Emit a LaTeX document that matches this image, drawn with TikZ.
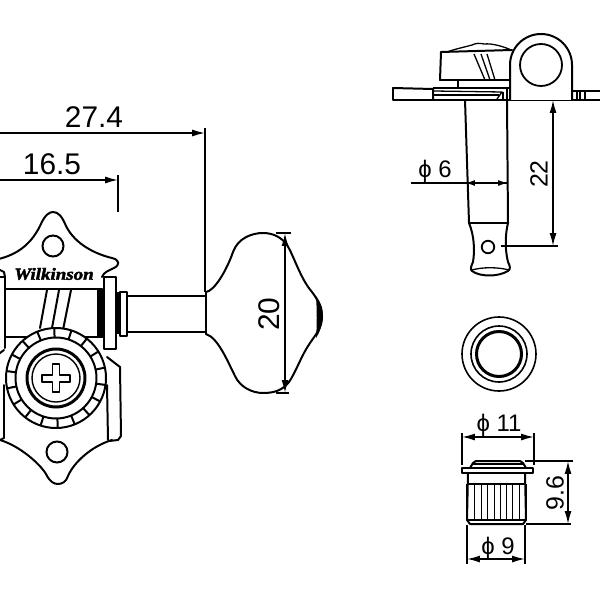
\documentclass[tikz,border=0pt]{standalone}
\usepackage{fontspec}
\setmainfont{Liberation Sans}
\newfontfamily\logofont[FakeBold=2.2]{Liberation Serif}
\usetikzlibrary{arrows.meta,calc}
\tikzset{
  part/.style={line width=2pt,line join=round,line cap=round},
  thin part/.style={line width=1.3pt,line join=round},
  dimline/.style={line width=1.5pt},
  dimarrow/.style={dimline,{Latex[length=13pt,width=7pt]}-{Latex[length=13pt,width=7pt]}},
  dimarrow right/.style={dimline,-{Latex[length=13pt,width=7pt]}},
  dimtext/.style={font=\fontsize{30}{30}\selectfont,inner sep=0pt},
  sidetext/.style={font=\fontsize{25}{25}\selectfont,inner sep=0pt},
  smalltext/.style={font=\fontsize{24}{24}\selectfont,inner sep=0pt},
}
\begin{document}
\begin{tikzpicture}[x=1bp,y=-1bp]
\useasboundingbox (0,0) rectangle (600,600);
\clip (0,0) rectangle (600,600);
% ---------- front view: plate
\draw[part] (-6,260) .. controls (15,256) and (30,246) .. (40,226)
  .. controls (45,214) and (50,212) .. (53,212)
  .. controls (58,212) and (62,216) .. (66,226)
  .. controls (75,244) and (95,254) .. (112,258)
  .. controls (120,260) and (120,265) .. (114,268)
  .. controls (108,271) and (104,272) .. (102,277);
\draw[part] (0,270) -- (4,272) -- (5,277);
\node[circle,draw,line width=2pt,minimum size=21bp,inner sep=0pt] (tophole) at (53,246) {};
\node[inner sep=0pt,font=\logofont\bfseries\itshape\fontsize{17}{18}\selectfont,xscale=1.12] (logo) at (54,274) {Wilkinson};
% barrel
\draw[part] (5,277) -- (5,348);
\draw[part] (-2,277) -- (5,277);
\draw[part] (5,289) -- (102,289);
\draw[part] (5,337) -- (102,337);
\draw[part] (47,290) -- (40,328);
\draw[part] (59,290) -- (52,328);
\draw[part] (71,290) -- (63,330);
\fill (97,289) rectangle (103,338);
\draw[part] (104,277) rectangle (116,349);
\fill (116,292) rectangle (120,334);
\draw[part] (120,292) rectangle (127,336);
% shaft
\draw[part] (127,296) -- (206,296);
\draw[part] (127,332) -- (206,332);
\draw[part] (206,292) -- (206,334);
% knob
\draw[part] (206,292) .. controls (214,291) and (226,272) .. (233,252)
  .. controls (238,238) and (252,233) .. (263,233)
  .. controls (274,233) and (282,238) .. (287,245)
  .. controls (294,256) and (300,278) .. (312,292)
  .. controls (319,301) and (322,310) .. (322,317)
  .. controls (322,328) and (316,334) .. (310,343)
  .. controls (301,356) and (296,372) .. (289,382)
  .. controls (282,391) and (273,393) .. (263,393)
  .. controls (252,393) and (240,387) .. (235,376)
  .. controls (227,360) and (218,338) .. (206,334);
\fill (316,296) .. controls (322,304) and (324,312) .. (322,318) .. controls (322,326) and (320,332) .. (316,338) .. controls (317,326) and (317,310) .. (316,296);
% lower plate
\draw[part] (107,357) -- (120,367) -- (121,436) -- (118,440) -- (109,441);
\draw[part] (107,385) -- (108,440);
\draw[part] (-4,356) -- (4,350);
\draw[part] (4,385) -- (4,438) -- (0,440);
\draw[part] (0,440) .. controls (20,446) and (40,464) .. (46,474)
  .. controls (50,482) and (54,484) .. (58,484)
  .. controls (62,484) and (66,482) .. (68,476)
  .. controls (74,462) and (92,446) .. (112,440);
\node[circle,draw,line width=2pt,minimum size=21bp,inner sep=0pt] (bothole) at (57,452) {};
% gear
\node[circle,fill=white,draw,line width=2pt,minimum size=100bp,inner sep=0pt] (gearouter) at (56,378) {};
\node[circle,draw,line width=2pt,minimum size=81bp,inner sep=0pt] (gearinner) at (56,378) {};
\foreach \a in {0,20,...,340}{
  \draw[line width=2pt] ($(56,378)+(\a+8:41)$) -- ($(56,378)+(\a+8:50)$);
}
\node[circle,draw,line width=3pt,minimum size=58bp,inner sep=0pt] (screwout) at (56,378) {};
\node[circle,draw,line width=1.4pt,minimum size=48bp,inner sep=0pt] (screwin) at (56,378) {};
\draw[part,shift={(56,378)}] (-3.5,-14) -- (3.5,-14) -- (3.5,-3.5) -- (14,-3.5) -- (14,3.5) -- (3.5,3.5) -- (3.5,14) -- (-3.5,14) -- (-3.5,3.5) -- (-14,3.5) -- (-14,-3.5) -- (-3.5,-3.5) -- cycle;
% dimensions, front view
\coordinate (d27l) at (0,133); \coordinate (d27r) at (205,133);
\draw[dimarrow right] (d27l) -- (d27r);
\draw[dimline] (205,128) -- (205,292);
\node[dimtext] (t27) at (94,117) {27.4};
\coordinate (d16l) at (0,180); \coordinate (d16r) at (118,180);
\draw[dimarrow right] (d16l) -- (d16r);
\draw[dimline] (118,175) -- (118,212);
\node[dimtext] (t16) at (52,164) {16.5};
\coordinate (d20t) at (285,233); \coordinate (d20b) at (285,393);
\draw[dimarrow] (d20t) -- (d20b);
\draw[dimline] (276,233) -- (291,233);
\draw[dimline] (276,393) -- (289,393);
\node[dimtext,rotate=90] (t20) at (269,314) {20};
% ---------- side view
\draw[part] (393,88) -- (433,89) -- (433,99);
\draw[part] (393,88) -- (393,100) -- (600,100);
\draw[thin part] (433,88) -- (510,88);
\draw[thin part] (434,91) -- (502,92) -- (497,99);
\draw[thin part] (434,95) -- (499,95);
\draw[part] (441,52) -- (440,80) -- (510,80);
\draw[part] (441,52) -- (512,50);
\draw[thin part] (447,52) .. controls (455,49) and (465,47) .. (472,45) .. controls (476,43) and (480,43) .. (484,44) .. controls (492,43) and (505,47) .. (511,50);
\draw[thin part] (474,54) -- (485,80);
\draw[thin part] (481,54) -- (490,80);
\draw[thin part] (487,54) -- (495,80);
\draw[thin part] (458,80) -- (458,88);
\draw[thin part] (507,88) -- (507,100);
\draw[thin part] (503,92) -- (503,100);
% ear
\draw[part,fill=white] (510,100) -- (510,65) arc[start angle=180,end angle=360,radius=31] -- (572,100);
\node[circle,draw,line width=1.8pt,minimum size=42bp,inner sep=0pt] (earhole) at (541,65) {};
\draw[part] (572,91) -- (600,91);
\draw[thin part] (572,91) -- (572,100) (577,91) -- (577,100) (580,91) -- (580,100) (585,91) -- (585,100);
% post
\draw[part] (465,100) -- (469,223);
\draw[part] (507,100) -- (508,223);
\draw[part] (469,223) -- (508,223);
\draw[part] (469,223) .. controls (474,235) and (475,250) .. (473,262)
  .. controls (471,266) and (470,270) .. (472,271)
  .. controls (480,277) and (498,277) .. (508,271)
  .. controls (511,269) and (510,266) .. (508,262)
  .. controls (505,250) and (505,235) .. (508,223);
\draw[thin part] (472,270) .. controls (482,267) and (498,267) .. (509,270);
\node[circle,draw,line width=1.8pt,minimum size=12.5bp,inner sep=0pt] (posthole) at (488,247) {};
\coordinate (phi6l) at (411,183); \coordinate (phi6a) at (465,183); \coordinate (phi6b) at (508,183);
\draw[dimline] (phi6l) -- (phi6b);
\draw[dimline,-{Latex[length=10pt,width=6pt]}] (480,183) -- (phi6a);
\draw[dimline,-{Latex[length=10pt,width=6pt]}] (493,183) -- (phi6b);
\node[smalltext] (t6) at (435,171) {ϕ 6};
\coordinate (d22t) at (553,100); \coordinate (d22b) at (553,246);
\draw[dimarrow] (d22t) -- (d22b);
\draw[dimline] (501,246) -- (558,246);
\node[sidetext,rotate=90] (t22) at (539,174) {22};
% ---------- bushing top view
\node[circle,draw,line width=1.6pt,minimum size=74bp,inner sep=0pt] (r1) at (499,354) {};
\node[circle,draw,line width=1.6pt,minimum size=56bp,inner sep=0pt] (r2) at (499,354) {};
\node[circle,draw,line width=3pt,minimum size=45bp,inner sep=0pt] (r3) at (499,354) {};
% ---------- bushing side view
\draw[part] (470,468) -- (473,463) -- (476,461) -- (520,461) -- (523,463) -- (526,468);
\draw[thin part] (473,464) -- (523,464);
\draw[part] (462,468) -- (533,468) -- (533,473) -- (462,473) -- cycle;
\draw[part] (468,473) -- (467,520) -- (470,524) -- (523,524) -- (526,520) -- (525,473);
\draw[line width=2.5pt] (467,484) -- (467,520) (526,484) -- (526,520);
\draw[thin part] (468,484) -- (525,484);
\draw[thin part] (468,520) -- (525,520);
\foreach \x in {474,481,487,494,500,506,512,519}{
  \draw[line width=1pt] (\x,485) -- (\x,520);
}
\coordinate (d11l) at (462,437); \coordinate (d11r) at (534,437);
\draw[dimarrow] (d11l) -- (d11r);
\draw[dimline] (462,433) -- (462,465);
\draw[dimline] (534,433) -- (534,465);
\node[smalltext] (t11) at (499,425) {ϕ 11};
\coordinate (d96t) at (568,461); \coordinate (d96b) at (568,524);
\draw[dimarrow] (d96t) -- (d96b);
\draw[dimline] (525,461) -- (573,461);
\draw[dimline] (526,524) -- (571,524);
\node[sidetext,rotate=90] (t96) at (555,493) {9.6};
\coordinate (d9l) at (467,559); \coordinate (d9r) at (525,559);
\draw[dimarrow] (d9l) -- (d9r);
\draw[dimline] (467,525) -- (467,564);
\draw[dimline] (525,525) -- (525,564);
\node[smalltext] (t9) at (498,548) {ϕ 9};
\end{tikzpicture}
\end{document}
